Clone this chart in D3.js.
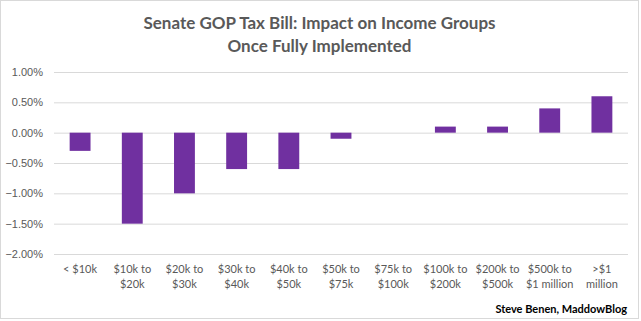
<!DOCTYPE html>
<html>
<head>
<meta charset="utf-8">
<script src="https://cdn.jsdelivr.net/npm/d3@7"></script>
<style>
  body { margin: 0; background: #fff; }
  svg { display: block; font-family: Lato, "Open Sans", sans-serif; }
</style>
</head>
<body>
<div id="chart"></div>
<script>
// income groups, two lines each
var groups = ["< $10k", "$10k to|$20k", "$20k to|$30k", "$30k to|$40k", "$40k to|$50k",
  "$50k to|$75k", "$75k to|$100k", "$100k to|$200k", "$200k to|$500k",
  "$500k to|$1 million", ">$1|million"];
// change in after-tax income, percent
var impact = [-0.3, -1.5, -1.0, -0.6, -0.6, -0.1, 0, 0.1, 0.1, 0.4, 0.6];
var yTicks = [1.0, 0.5, 0, -0.5, -1.0, -1.5, -2.0];
var titleLines = ["Senate GOP Tax Bill: Impact on Income Groups", "Once Fully Implemented"];

var W = 641, H = 321;
var margin = {top: 72, right: 13, bottom: 67, left: 54};
var width = W - margin.left - margin.right;
var height = H - margin.top - margin.bottom;

var svg = d3.select("#chart").append("svg").attr("width", W).attr("height", H);

// outer frame
svg.append("rect").attr("x", 0.5).attr("y", 0.5)
  .attr("width", W - 3).attr("height", H - 3)
  .attr("fill", "#fff").attr("stroke", "#d9d9d9");

var x = d3.scaleBand().domain(d3.range(groups.length)).range([0, width]).paddingInner(0.6).paddingOuter(0.3);
var y = d3.scaleLinear().domain([-2, 1]).range([height, 0]);

var g = svg.append("g").attr("transform", `translate(${margin.left},${margin.top})`);

// grid + y labels
var yAxis = d3.axisLeft(y).tickValues(yTicks).tickSize(-width).tickPadding(11)
  .tickFormat(d => d3.format(".2f")(d) + "%");
var yAxisG = g.append("g").call(yAxis);
yAxisG.select(".domain").remove();
yAxisG.selectAll(".tick line").attr("stroke", "#d9d9d9").attr("stroke-width", 1);
yAxisG.selectAll(".tick text").attr("fill", "#595959").style("font-size", "11px");

// bars
g.selectAll("rect.bar").data(impact).join("rect").attr("class", "bar")
  .attr("x", (d, i) => x(i))
  .attr("width", x.bandwidth())
  .attr("y", d => y(Math.max(0, d)))
  .attr("height", d => Math.abs(y(d) - y(0)))
  .attr("fill", "#7030a0");

// x labels
var xl = g.selectAll("text.xl").data(groups).join("text").attr("class", "xl")
  .attr("text-anchor", "middle")
  .attr("fill", "#595959")
  .style("font-size", "11px")
  .attr("transform", (d, i) => `translate(${x(i) + x.bandwidth() / 2},${height + 19})`);
xl.selectAll("tspan").data(d => d.split("|")).join("tspan")
  .attr("x", 0).attr("dy", (d, i) => i ? 15 : 0).text(d => d);

// title
svg.append("text").attr("text-anchor", "middle")
  .attr("fill", "#595959").style("font-size", "17px").style("font-weight", "bold")
  .selectAll("tspan").data(titleLines).join("tspan")
  .attr("x", W / 2 - 1).attr("y", (d, i) => 29 + i * 23).text(d => d);

// credit
svg.append("text").attr("x", 627).attr("y", 313).attr("text-anchor", "end")
  .attr("fill", "#000").style("font-size", "11px").style("font-weight", "bold")
  .text("Steve Benen, MaddowBlog");
</script>
</body>
</html>
